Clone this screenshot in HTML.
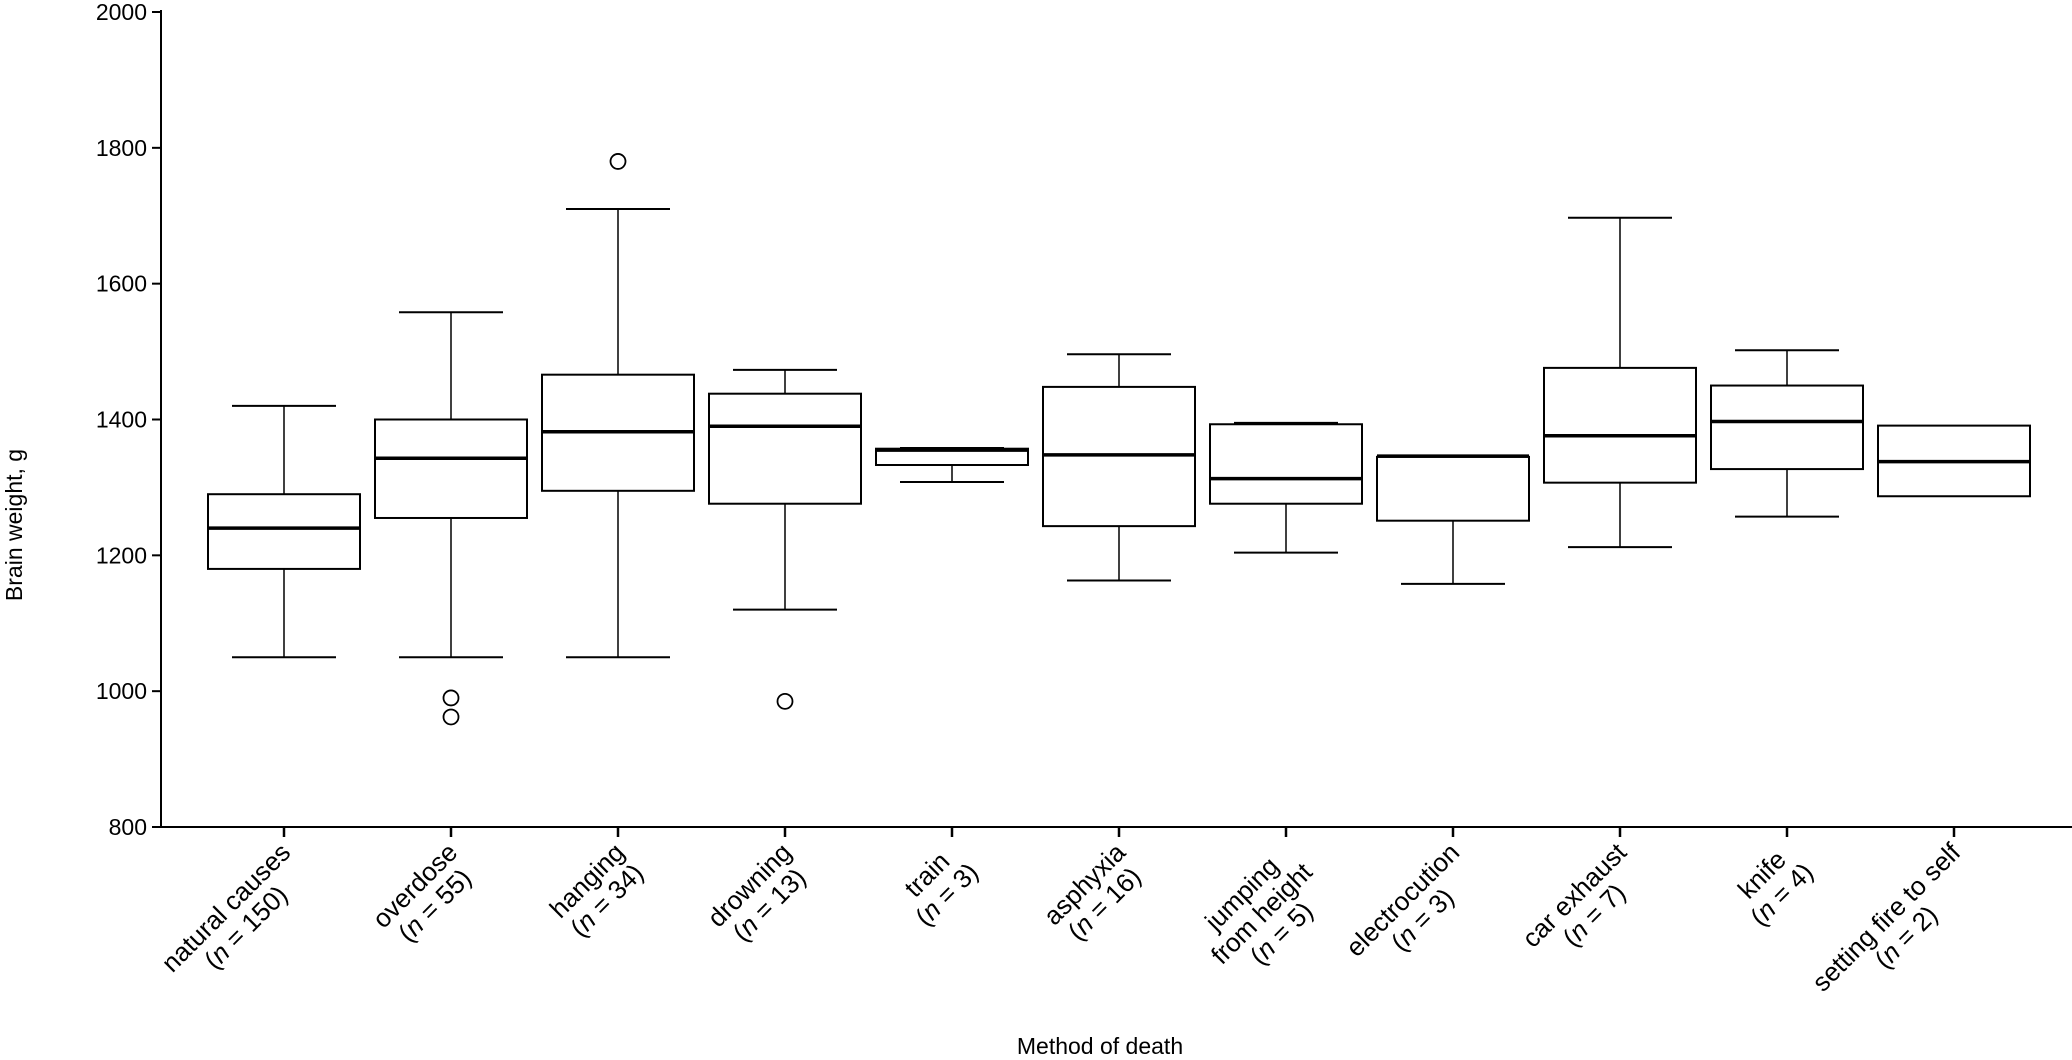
<!DOCTYPE html>
<html><head><meta charset="utf-8"><style>
html,body{margin:0;padding:0;background:#fff;}
svg{display:block;font-family:"Liberation Sans",Arial,sans-serif;}
</style></head><body>
<svg id="chart" width="2072" height="1060" viewBox="0 0 2072 1060" xmlns="http://www.w3.org/2000/svg"></svg>
<script>
const categories = [["natural causes"],["overdose"],["hanging"],["drowning"],["train"],["asphyxia"],["jumping","from height"],["electrocution"],["car exhaust"],["knife"],["setting fire to self"]];
const counts = [150,55,34,13,3,16,5,3,7,4,2];
const whiskerLow = [1050,1050,1050,1120,1308,1163,1204,1158,1212,1257,null];
const q1 = [1180,1255,1295,1276,1333,1243,1276,1251,1307,1327,1287];
const medians = [1240,1343,1382,1390,1355,1348,1313,1346,1376,1397,1338];
const q3 = [1290,1400,1466,1438,1357,1448,1393,1345,1476,1450,1391];
const whiskerHigh = [1420,1558,1710,1473,1358,1496,1395,1346,1697,1502,null];
const outliers = [[],[990,962],[1780],[985],[],[],[],[],[],[],[]];
const yTicks = [800,1000,1200,1400,1600,1800,2000];

const NS="http://www.w3.org/2000/svg";
const svg=document.getElementById('chart');
const X0=161, Y0=827, Y1=12, first=284, step=167;
const y=v=>Y0-(v-800)/1200*(Y0-Y1);
const x=i=>first+i*step;
function el(t,a,p){const e=document.createElementNS(NS,t);for(const k in a)e.setAttribute(k,a[k]);(p||svg).appendChild(e);return e;}

const ya=el('line',{x1:X0,y1:Y1-2,x2:X0,y2:Y0,stroke:'#000','stroke-width':2});


const xa=el('line',{x1:X0,y1:Y0,x2:2072,y2:Y0,stroke:'#000','stroke-width':2});


yTicks.forEach(t=>{
  const tk=el('line',{x1:X0-9,y1:y(t),x2:X0,y2:y(t),stroke:'#000','stroke-width':2});
  
  
  const tx=el('text',{x:X0-14,y:y(t)+8,'text-anchor':'end','font-size':23});
  tx.textContent=t;
  
  
});
const yt=el('text',{transform:'translate(22,525) rotate(-90)','text-anchor':'middle','font-size':23});
yt.textContent='Brain weight, g';


const xt=el('text',{x:1100,y:1054,'text-anchor':'middle','font-size':23});
xt.textContent='Method of death';



const HW=76, CW=52;
categories.forEach((c,i)=>{
  const cx=x(i);
  const g=el('g',{stroke:'#000',fill:'none'});
  
  
  el('line',{x1:cx,y1:Y0,x2:cx,y2:Y0+10,'stroke-width':2.5},g);
  if(whiskerLow[i]!=null){
    el('line',{x1:cx,y1:y(whiskerLow[i]),x2:cx,y2:y(q1[i]),'stroke-width':1.5},g);
    el('line',{x1:cx-CW,y1:y(whiskerLow[i]),x2:cx+CW,y2:y(whiskerLow[i]),'stroke-width':2},g);
  }
  if(whiskerHigh[i]!=null){
    el('line',{x1:cx,y1:y(whiskerHigh[i]),x2:cx,y2:y(q3[i]),'stroke-width':1.5},g);
    el('line',{x1:cx-CW,y1:y(whiskerHigh[i]),x2:cx+CW,y2:y(whiskerHigh[i]),'stroke-width':2},g);
  }
  const top=Math.max(q1[i],q3[i]), bot=Math.min(q1[i],q3[i]);
  el('rect',{x:cx-HW,y:y(top),width:2*HW,height:y(bot)-y(top),fill:'#fff','stroke-width':2},g);
  el('line',{x1:cx-HW,y1:y(medians[i]),x2:cx+HW,y2:y(medians[i]),'stroke-width':3.5},g);
  outliers[i].forEach(o=>{el('circle',{cx:cx,cy:y(o),r:7.5,'stroke-width':1.8},g);});

  const lg=el('g',{transform:`translate(${cx+8},854) rotate(-45)`,'font-size':26});
  
  
  const lines=[...c,null];
  const texts=lines.map((s,k)=>{
    const t=el('text',{x:0,y:k*28,'text-anchor':'middle'},lg);
    if(s===null){t.innerHTML='(<tspan font-style="italic">n</tspan> = '+counts[i]+')';}
    else t.textContent=s;
    return t;
  });
  const maxW=Math.max(...texts.map(t=>t.getComputedTextLength()));
  texts.forEach(t=>t.setAttribute('x',-maxW/2));
});
</script>
</body></html>
